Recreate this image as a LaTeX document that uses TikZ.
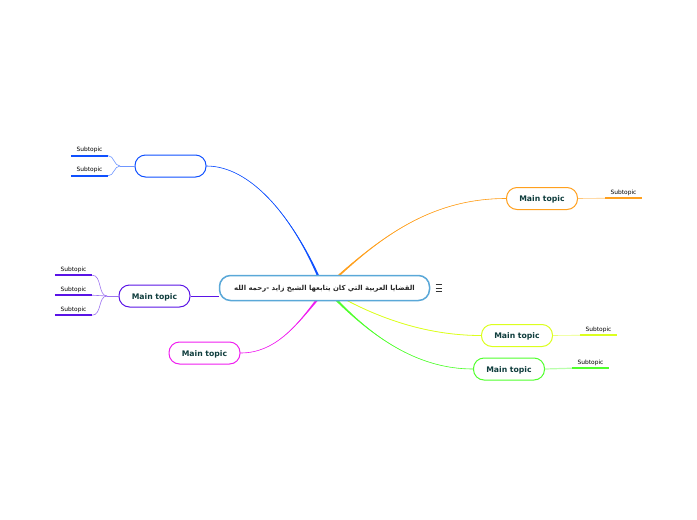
\documentclass[tikz,border=0pt]{standalone}
\usepackage{fontspec}
\usetikzlibrary{calc}
\setmainfont{DejaVu Sans}
\newfontfamily\arabicfont[Script=Arabic]{DejaVu Sans}
\TeXXeTstate=1
\definecolor{cblue}{HTML}{0F50FF}
\definecolor{corange}{HTML}{FFA01E}
\definecolor{cyellow}{HTML}{DCFF1E}
\definecolor{cgreen}{HTML}{50FF2D}
\definecolor{cmagenta}{HTML}{F01EF0}
\definecolor{cpurple}{HTML}{5A14E6}
\definecolor{ccentral}{HTML}{5AA8D8}
\definecolor{ctext}{HTML}{0F3D3D}
\newcommand{\mainlabel}{\raisebox{-1.2pt}[\height][\depth]{Main topic}}
\tikzset{
  topicbox/.style={draw=#1,fill=white,line width=1pt,rounded corners=10.5pt,minimum width=71pt,minimum height=22pt,inner sep=0pt,font=\bfseries\fontsize{7.7}{9}\selectfont,text=ctext},
  centralbox/.style={draw=ccentral,fill=white,line width=1.5pt,rounded corners=11pt,minimum width=210pt,minimum height=25pt,inner sep=0pt,font=\bfseries\fontsize{6.9}{9}\selectfont,text=black!85},
  subbox/.style={minimum width=37pt,minimum height=11pt,inner sep=0pt,font=\fontsize{5.9}{7}\selectfont,text=black},
  twig/.style={line width=.6pt,draw=#1!60},
  underline/.style={draw=#1,line width=1.9pt},
}
\begin{document}
\begin{tikzpicture}[x=1pt,y=-1pt]
\useasboundingbox (0,0) rectangle (697,520);
% named attachment points on the central topic
\coordinate (sb) at (318,275.5);
\coordinate (so) at (338.5,275.5);
\coordinate (sy) at (347,300.5);
\coordinate (sg) at (337,300.5);
\coordinate (sm) at (316.5,300.5);
% nodes
\node[topicbox=cblue] (nb) at (170.5,166) {};
\node[topicbox=cpurple] (np) at (154.5,296) {\mainlabel};
\node[topicbox=cmagenta] (nm) at (204.5,353) {\mainlabel};
\node[topicbox=corange] (no) at (542,198.5) {\mainlabel};
\node[topicbox=cyellow] (ny) at (517,335.5) {\mainlabel};
\node[topicbox=cgreen] (ng) at (509,369) {\mainlabel};
% subtopics
\node[subbox] (b1) at (89.5,150) {Subtopic};
\node[subbox] (b2) at (89.5,170) {Subtopic};
\node[subbox] (p1) at (73.5,269.5) {Subtopic};
\node[subbox] (p2) at (73.5,289.5) {Subtopic};
\node[subbox] (p3) at (73.5,309.5) {Subtopic};
\node[subbox] (o1) at (623.5,192.5) {Subtopic};
\node[subbox] (y1) at (598.5,329.5) {Subtopic};
\node[subbox] (g1) at (590.5,362.5) {Subtopic};
% main branches (tapered towards the topic)
\fill[cblue] ($(sb)+(-1.1,0.3)$) .. controls (291,215) and (250,166) .. (nb.east) .. controls (250,166) and (291,215) .. ($(sb)+(1.1,0)$) -- cycle;
\draw[cblue,line width=.6pt] (sb) .. controls (291,215) and (250,166) .. (nb.east);
\fill[corange] ($(so)+(-1.1,0)$) .. controls (386,233) and (435,198.5) .. (no.west) .. controls (435,198.5) and (386,233) .. ($(so)+(1.1,0.6)$) -- cycle;
\draw[corange,line width=.6pt] (so) .. controls (386,233) and (435,198.5) .. (no.west);
\fill[cyellow] ($(sy)+(-1.1,-0.4)$) .. controls (390,323) and (435,335.5) .. (ny.west) .. controls (435,335.5) and (390,323) .. ($(sy)+(1.1,0.4)$) -- cycle;
\draw[cyellow,line width=.8pt] (sy) .. controls (390,323) and (435,335.5) .. (ny.west);
\fill[cgreen] ($(sg)+(-1.1,0.5)$) .. controls (376,340) and (420,369) .. (ng.west) .. controls (420,369) and (376,340) .. ($(sg)+(1.1,-0.5)$) -- cycle;
\draw[cgreen,line width=.6pt] (sg) .. controls (376,340) and (420,369) .. (ng.west);
\fill[cmagenta] ($(sm)+(-1.1,-0.4)$) .. controls (296,326) and (275,353) .. (nm.east) .. controls (275,353) and (296,326) .. ($(sm)+(1.1,0.4)$) -- cycle;
\draw[cmagenta,line width=.6pt] (sm) .. controls (296,326) and (275,353) .. (nm.east);
% central topic and its connector to the purple topic
\node[centralbox] (c) at (324.5,288) {\raisebox{-.8pt}[\height][\depth]{\arabicfont\beginR القضايا العربية التي كان يتابعها الشيخ زايد -رحمه الله\endR}};
\draw[cpurple,line width=.7pt] (c.west |- np.east) -- (np.east);
% menu mark beside the central topic
\draw[black!80,line width=.7pt] (435.5,284.5) -- (442,284.5) (435.5,288) -- (442,288) (435.5,291.5) -- (442,291.5);
% subtopic underlines
\draw[underline=cblue] (b1.south west) -- (b1.south east);
\draw[underline=cblue] (b2.south west) -- (b2.south east);
\draw[underline=cpurple] (p1.south west) -- (p1.south east);
\draw[underline=cpurple] (p2.south west) -- (p2.south east);
\draw[underline=cpurple] (p3.south west) -- (p3.south east);
\draw[underline=corange] (o1.south west) -- (o1.south east);
\draw[underline=cyellow] (y1.south west) -- (y1.south east);
\draw[underline=cgreen] (g1.south west) -- (g1.south east);
% twigs
\coordinate (jb) at (120,166);
\coordinate (jp) at (107,296);
\draw[twig=cblue] (nb.west) -- (jb);
\draw[twig=cblue] (jb) .. controls (114,166) and (114,155.5) .. (b1.south east);
\draw[twig=cblue] (jb) .. controls (114,166) and (114,176) .. (b2.south east);
\draw[twig=cpurple] (np.west) -- (jp);
\draw[twig=cpurple] (jp) .. controls (98,296) and (102,275) .. (p1.south east);
\draw[twig=cpurple] (jp) -- (p2.south east);
\draw[twig=cpurple] (jp) .. controls (98,296) and (102,315) .. (p3.south east);
\draw[twig=corange] (no.east) -- (o1.south west);
\draw[twig=cyellow] (ny.east) -- (y1.south west);
\draw[draw=cgreen!40,line width=1.2pt] (ng.east) -- (g1.south west);
\end{tikzpicture}
\end{document}
